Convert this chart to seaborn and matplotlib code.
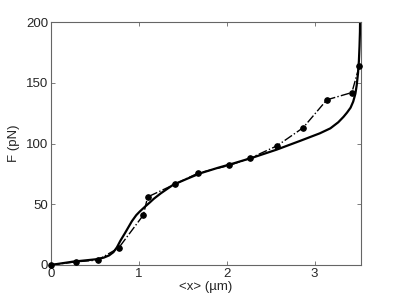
import numpy as np
import pandas as pd
import matplotlib

matplotlib.use('Agg')
import matplotlib.pyplot as plt
import seaborn as sns

# measured points (dash-dot with markers)
x_meas = [0, 0.28, 0.53, 0.77, 1.05, 1.10, 1.41, 1.67, 2.03, 2.27, 2.57, 2.87, 3.14, 3.425, 3.51]
f_meas = [0, 2.5, 4, 14, 41, 56, 66.5, 75.5, 82, 88, 98, 113, 136, 142, 164]

# model curve (solid)
x_model = [0, 0.12, 0.25, 0.40, 0.52, 0.60, 0.66, 0.71, 0.75, 0.79, 0.84, 0.88, 0.92,
           0.97, 1.01, 1.07, 1.125, 1.17, 1.25, 1.39, 1.55, 1.70, 1.90, 2.08, 2.30,
           2.57, 2.84, 3.06, 3.18, 3.27, 3.33, 3.37, 3.41, 3.44, 3.465, 3.48, 3.495,
           3.505, 3.512, 3.517, 3.52]
f_model = [0, 1.3, 2.7, 3.8, 4.7, 6.0, 7.8, 10.5, 14.5, 20, 26, 31, 36,
           41, 44, 48, 51.5, 54.5, 59, 66, 71, 75.5, 80, 83.7, 88.5,
           95, 102.3, 108.4, 112.5, 117.5, 122, 125.5, 129.5, 134.5, 141, 148, 158,
           168, 180, 192, 210]

x_ticks = [0, 1, 2, 3]
y_ticks = [0, 50, 100, 150, 200]

sns.set_style("white")
plt.rcParams['font.family'] = ['Liberation Sans', 'DejaVu Sans']

fig = plt.figure(figsize=(3.99, 2.99), dpi=100)
ax = fig.add_axes([0.128, 0.114, 0.777, 0.812])

meas = pd.DataFrame({'x': x_meas, 'F': f_meas})
model = pd.DataFrame({'x': x_model, 'F': f_model})

sns.lineplot(data=model, x='x', y='F', sort=False, ax=ax, color='black', lw=1.6)
sns.lineplot(data=meas, x='x', y='F', sort=False, ax=ax, color='black', lw=1.0,
             linestyle='-.', marker='o', markersize=4, markeredgecolor='black',
             clip_on=False, zorder=3)

ax.set_xlim(0, 3.53)
ax.set_ylim(0, 200)
ax.set_xticks(x_ticks)
ax.set_yticks(y_ticks)
ax.tick_params(direction='in', length=3, width=0.6, color='#666666', labelsize=9.5,
               top=True, right=True, bottom=True, left=True, pad=2)
for s in ax.spines.values():
    s.set_color('#666666')
    s.set_linewidth(0.8)
    s.set_visible(True)

ax.set_xlabel('<x> (µm)', fontsize=9.5, labelpad=1)
ax.set_ylabel('F (pN)', fontsize=9.5, labelpad=4)

plt.savefig('out.png', dpi=100)
